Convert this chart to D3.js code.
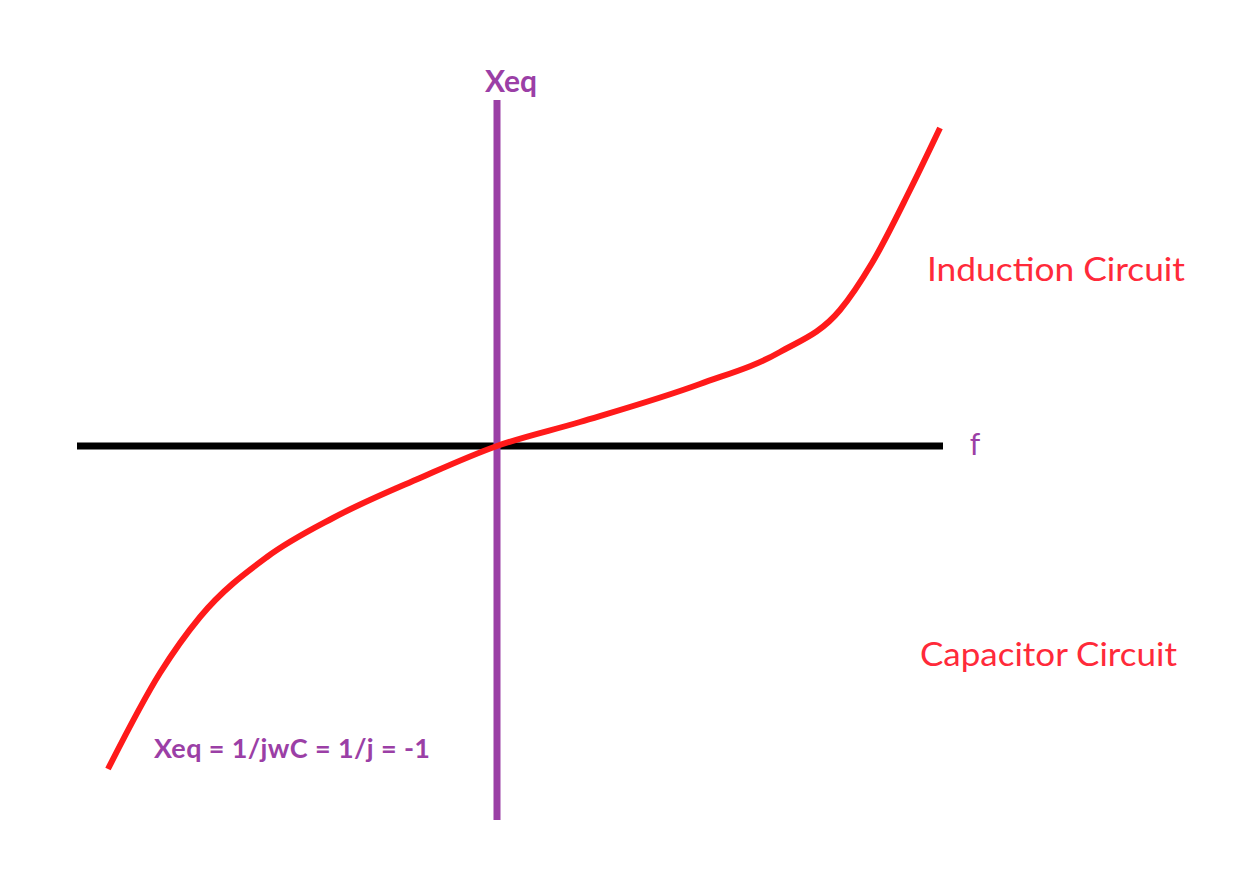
<!DOCTYPE html>
<html><head><meta charset="utf-8">
<script src="https://cdn.jsdelivr.net/npm/d3@7"></script>
<style>body{margin:0;background:#fff}svg{display:block}</style>
</head><body>
<svg id="c" width="1250" height="880"></svg>
<script>
// Data (abstract units; origin at the axes crossing)
const curveF = [-3.89,-3.37,-2.97,-2.30,-1.64,-0.77,0.00,0.83,2.03,2.83,3.43,3.75,4.13,4.43];
const curveX = [-3.23,-2.27,-1.71,-1.11,-0.72,-0.32,0.00,0.24,0.62,0.94,1.36,1.83,2.56,3.18];
const fDomain = [-4.20, 4.46];
const xDomain = [-3.74, 3.46];
const labels = {y:"Xeq", x:"f", upper:"Induction Circuit", lower:"Capacitor Circuit", formula:"Xeq = 1/jwC = 1/j = -1"};

const svg = d3.select("#c");
const sx = d3.scaleLinear().domain(fDomain).range([77, 943]);
const sy = d3.scaleLinear().domain(xDomain).range([820, 100]);

// horizontal axis
svg.append("line").attr("x1", sx(fDomain[0])).attr("x2", sx(fDomain[1]))
  .attr("y1", sy(0)).attr("y2", sy(0)).attr("stroke", "#000").attr("stroke-width", 7);
// vertical axis
svg.append("line").attr("x1", sx(0)).attr("x2", sx(0))
  .attr("y1", sy(xDomain[0])).attr("y2", sy(xDomain[1])).attr("stroke", "#9b3fa6").attr("stroke-width", 7);

// curve
const line = d3.line().x((d,i)=>sx(curveF[i])).y((d,i)=>sy(curveX[i])).curve(d3.curveMonotoneX);
svg.append("path").datum(curveF).attr("d", line).attr("fill","none")
  .attr("stroke","#ff1a1a").attr("stroke-width",6).attr("stroke-linecap","butt");

const font = "Lato, 'Open Sans', sans-serif";
svg.append("text").attr("x", 511).attr("y", 92).attr("text-anchor","middle")
  .attr("font-family", font).attr("font-weight","bold").attr("font-size",30).attr("fill","#9b3fa6").text(labels.y);
svg.append("text").attr("x", 975).attr("y", 455).attr("text-anchor","middle")
  .attr("font-family", font).attr("font-size",30).attr("fill","#9b3fa6").text(labels.x);
svg.append("text").attr("x", 927).attr("y", 281)
  .attr("font-family", font).attr("font-size",33).attr("fill","#ff2a3a").attr("textLength",258).attr("lengthAdjust","spacingAndGlyphs").text(labels.upper);
svg.append("text").attr("x", 920).attr("y", 666)
  .attr("font-family", font).attr("font-size",33).attr("fill","#ff2a3a").attr("textLength",257).attr("lengthAdjust","spacingAndGlyphs").text(labels.lower);
svg.append("text").attr("x", 154).attr("y", 758)
  .attr("font-family", font).attr("font-weight","bold").attr("font-size",27).attr("fill","#9b3fa6").attr("textLength",276).text(labels.formula);
</script>
</body></html>
